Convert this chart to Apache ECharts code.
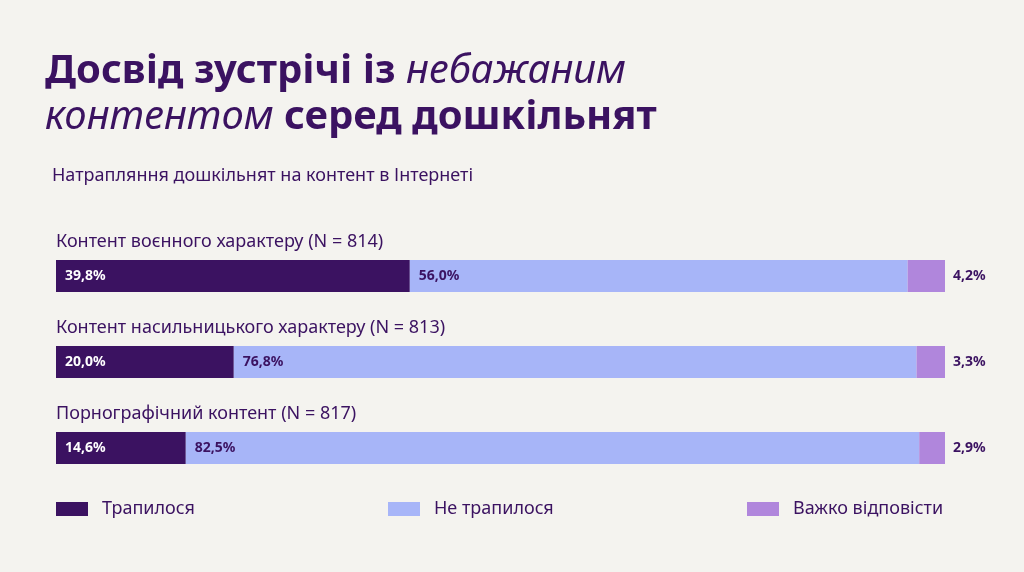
<!DOCTYPE html>
<html>
<head>
    <meta charset="utf-8"/>
    <script src="https://cdn.jsdelivr.net/npm/echarts@6/dist/echarts.min.js"></script>
    <style>
        html, body { margin: 0; padding: 0; background: #f4f3ef; }
    </style>
</head>
<body>
<div id="main" style="width: 1024px;height:572px;"></div>
<script type="text/javascript">
    // дані
    var categories = ['Контент воєнного характеру (N = 814)', 'Контент насильницького характеру (N = 813)', 'Порнографічний контент (N = 817)'];
    var happened = [39.8, 20.0, 14.6];
    var notHappened = [56.0, 76.8, 82.5];
    var hardToSay = [4.2, 3.3, 2.9];
    var seriesNames = ['Трапилося', 'Не трапилося', 'Важко відповісти'];

    var dark = '#3b1261';
    var colors = ['#3b1261', '#a7b5f8', '#b086dc'];
    var font = '"Noto Sans", sans-serif';

    var myChart = echarts.init(document.getElementById('main'));

    function fmt(p) {
        return p.value.toFixed(1).replace('.', ',') + '%';
    }

    var option = {
        backgroundColor: '#f4f3ef',
        title: [{
            left: 45,
            top: 49,
            padding: 0,
            text: '{b|Досвід зустрічі із }{i|небажаним}\n{i|контентом}{b| серед дошкільнят}',
            textStyle: {
                rich: {
                    b: {fontFamily: font, fontSize: 40, fontWeight: 'bold', color: dark, lineHeight: 46},
                    i: {fontFamily: font, fontSize: 40, fontStyle: 'italic', fontWeight: 'normal', color: dark, lineHeight: 46}
                }
            }
        }, {
            left: 52,
            top: 167,
            padding: 0,
            text: 'Натрапляння дошкільнят на контент в Інтернеті',
            textStyle: {fontFamily: font, fontSize: 18, fontWeight: 'normal', color: dark}
        }],
        legend: [0, 1, 2].map(function (i) {
            return {
                left: [56, 388, 747][i],
                top: 500,
                padding: 0,
                data: [seriesNames[i]],
                icon: 'rect',
                itemWidth: 32,
                itemHeight: 14,
                selectedMode: false,
                textStyle: {fontFamily: font, fontSize: 18, color: dark, padding: [0, 0, 0, 9]}
            };
        }),
        grid: {left: 56, right: 79, top: 233, bottom: 81},
        xAxis: {type: 'value', min: 0, max: 100, show: false},
        yAxis: {
            type: 'category',
            inverse: true,
            data: categories,
            axisLine: {show: false},
            axisTick: {show: false},
            axisLabel: {
                inside: true,
                margin: 0,
                align: 'left',
                verticalAlign: 'bottom',
                padding: [0, 0, 25, 0],
                fontFamily: font,
                fontSize: 18,
                color: dark
            }
        },
        series: [{
            name: seriesNames[0],
            type: 'bar',
            stack: 'all',
            barWidth: 32,
            data: happened,
            itemStyle: {color: colors[0]},
            label: {show: true, position: 'insideLeft', distance: 9, formatter: fmt,
                color: '#fff', fontFamily: font, fontWeight: 'bold', fontSize: 14}
        }, {
            name: seriesNames[1],
            type: 'bar',
            stack: 'all',
            barWidth: 32,
            data: notHappened,
            itemStyle: {color: colors[1]},
            label: {show: true, position: 'insideLeft', distance: 9, formatter: fmt,
                color: dark, fontFamily: font, fontWeight: 'bold', fontSize: 14}
        }, {
            name: seriesNames[2],
            type: 'bar',
            stack: 'all',
            barWidth: 32,
            data: hardToSay,
            itemStyle: {color: colors[2]},
            label: {show: true, position: 'right', distance: 8, formatter: fmt,
                color: dark, fontFamily: font, fontWeight: 'bold', fontSize: 14}
        }]
    };

    myChart.setOption(option);
</script>
</body>
</html>
